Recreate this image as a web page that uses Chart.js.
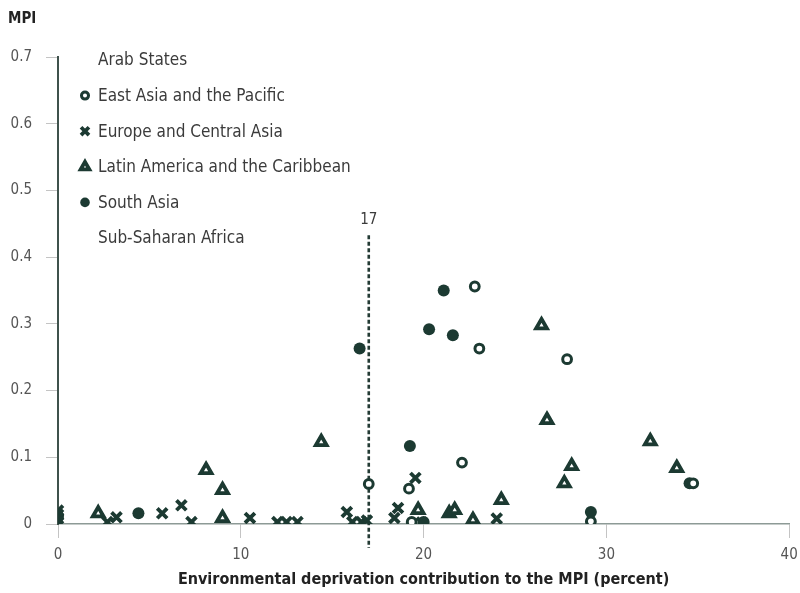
<!DOCTYPE html>
<html>
<head>
<meta charset="utf-8">
<script src="https://cdn.jsdelivr.net/npm/chart.js@4/dist/chart.umd.min.js"></script>
<style>
  body { margin: 0; background: #fff; }
  #wrap { width: 800px; height: 593px; }
</style>
</head>
<body>
<div id="wrap"><canvas id="mpi" width="800" height="593"></canvas></div>
<script>
// [environmental share of MPI (%), MPI] per country, grouped by region
var arabStates = [];
var eastAsia = [[22.8, 0.356], [23.05, 0.263], [27.85, 0.247], [22.1, 0.092], [17.0, 0.060],
  [19.2, 0.053], [19.35, 0.003], [29.15, 0.004], [34.75, 0.061]];
var europeCentralAsia = [[0, 0.002], [0, 0.008], [0, 0.014], [0, 0.020], [2.7, 0.003], [3.2, 0.010],
  [5.7, 0.016], [6.75, 0.028], [7.3, 0.003], [10.5, 0.009], [12.0, 0.003], [12.5, 0.003],
  [13.1, 0.003], [15.8, 0.018], [16.1, 0.003], [16.6, 0.003], [16.9, 0.005], [18.4, 0.009],
  [18.6, 0.024], [19.55, 0.069], [19.9, 0.002], [24.0, 0.008]];
var latinAmerica = [[2.2, 0.016], [8.1, 0.081], [9.0, 0.051], [9.0, 0.009], [14.4, 0.123],
  [19.7, 0.021], [21.4, 0.016], [21.7, 0.021], [22.7, 0.006], [24.25, 0.036], [26.45, 0.298],
  [26.75, 0.156], [27.7, 0.061], [28.1, 0.087], [32.4, 0.124], [33.85, 0.084]];
var southAsia = [[0, 0.012], [4.4, 0.016], [16.5, 0.263], [19.25, 0.117], [20.0, 0.003],
  [20.3, 0.292], [21.1, 0.350], [21.6, 0.283], [29.15, 0.018], [34.55, 0.061]];
var subSaharanAfrica = [];

var regionNames = ["Arab States", "East Asia and the Pacific", "Europe and Central Asia",
  "Latin America and the Caribbean", "South Asia", "Sub-Saharan Africa"];
var xTicks = [0, 10, 20, 30, 40];
var yTicks = [0, 0.1, 0.2, 0.3, 0.4, 0.5, 0.6, 0.7];
var threshold = 17;
var thresholdTop = 0.433;

var ink = "#1c3a32";
var textColor = "#3b3b3b";
var narrow = "'Liberation Sans Narrow', 'DejaVu Sans Condensed', 'Liberation Sans', sans-serif";

function pts(arr) {
  return arr.map(function (p) { return { x: p[0], y: p[1] }; });
}

var datasets = [
  { label: regionNames[0], data: pts(arabStates), pointStyle: "circle", pointRadius: 5,
    backgroundColor: "transparent", borderColor: "transparent", borderWidth: 0 },
  { label: regionNames[1], data: pts(eastAsia), pointStyle: "circle", pointRadius: 4.4,
    backgroundColor: "#fff", borderColor: ink, borderWidth: 3 },
  { label: regionNames[2], data: pts(europeCentralAsia), pointStyle: "crossRot", pointRadius: 7,
    backgroundColor: ink, borderColor: ink, borderWidth: 3.8 },
  { label: regionNames[3], data: pts(latinAmerica), pointStyle: "triangle", pointRadius: 6.2,
    backgroundColor: "#fff", borderColor: ink, borderWidth: 3.8 },
  { label: regionNames[4], data: pts(southAsia), pointStyle: "circle", pointRadius: 6,
    backgroundColor: ink, borderColor: ink, borderWidth: 0 },
  { label: regionNames[5], data: pts(subSaharanAfrica), pointStyle: "circle", pointRadius: 5,
    backgroundColor: "transparent", borderColor: "transparent", borderWidth: 0 }
];

// legend, axis caption and the 17% reference line drawn on top of the plot
var overlay = {
  id: "overlay",
  beforeDatasetsDraw: function (chart) {
    var ctx = chart.ctx, xs = chart.scales.x, ys = chart.scales.y;
    var x = xs.getPixelForValue(threshold);
    var top = ys.getPixelForValue(thresholdTop);
    ctx.save();
    ctx.strokeStyle = "#243b35";
    ctx.lineWidth = 2.6;
    ctx.setLineDash([4, 2.5]);
    ctx.beginPath();
    ctx.moveTo(x, top);
    ctx.lineTo(x, chart.chartArea.bottom + 24);
    ctx.stroke();
    ctx.setLineDash([]);
    ctx.fillStyle = textColor;
    ctx.font = "15px " + narrow;
    ctx.textAlign = "center";
    ctx.textBaseline = "bottom";
    ctx.fillText(String(threshold), x, top - 8);
    ctx.restore();
  },
  afterDraw: function (chart) {
    var ctx = chart.ctx;
    ctx.save();
    ctx.fillStyle = "#222";
    ctx.font = "bold 15px " + narrow;
    ctx.textAlign = "left";
    ctx.textBaseline = "middle";
    ctx.fillText("MPI", 8, 19);

    var lx = 85, ly = 60, step = 35.6;
    ctx.font = "17px " + narrow;
    chart.data.datasets.forEach(function (ds, i) {
      var y = ly + i * step;
      ctx.fillStyle = ds.backgroundColor;
      ctx.strokeStyle = ds.borderColor;
      ctx.lineWidth = ds.borderWidth;
      if (ds.borderWidth > 0 || ds.backgroundColor !== "transparent") {
        Chart.helpers.drawPoint(ctx, {
          pointStyle: ds.pointStyle, radius: ds.pointRadius * 0.8,
          rotation: 0, borderWidth: ds.borderWidth
        }, lx, y);
      }
      ctx.fillStyle = textColor;
      ctx.fillText(ds.label, lx + 13, y + 1);
    });
    ctx.restore();
  }
};

new Chart(document.getElementById("mpi"), {
  type: "scatter",
  data: { datasets: datasets },
  plugins: [overlay],
  options: {
    responsive: false,
    animation: false,
    layout: { padding: { top: 57, right: 8, left: 0, bottom: 0 } },
    plugins: { legend: { display: false }, tooltip: { enabled: false } },
    scales: {
      x: {
        type: "linear", min: 0, max: 40,
        afterBuildTicks: function (s) { s.ticks = xTicks.map(function (v) { return { value: v }; }); },
        afterFit: function (s) { s.height = 69; s.paddingRight = 0; s.paddingLeft = 0; },
        border: { color: "#8d9a96", width: 1.5 },
        grid: { drawOnChartArea: false, drawTicks: true, tickLength: 14, color: "#c4c4c4" },
        ticks: { color: "#555", padding: 8, font: { family: narrow, size: 15 } },
        title: {
          display: true, text: "Environmental deprivation contribution to the MPI (percent)",
          color: "#222", font: { family: narrow, size: 16, weight: "bold" },
          padding: { top: 0, bottom: 4 }
        }
      },
      y: {
        type: "linear", min: 0, max: 0.7,
        afterBuildTicks: function (s) { s.ticks = yTicks.map(function (v) { return { value: v }; }); },
        afterFit: function (s) { s.width = 58; },
        border: { color: "#3f524c", width: 2 },
        grid: { drawOnChartArea: false, drawTicks: true, tickLength: 12, color: "#c4c4c4" },
        ticks: {
          color: "#555", padding: 14, font: { family: narrow, size: 15 },
          callback: function (v) { return v === 0 ? "0" : v.toFixed(1); }
        }
      }
    }
  }
});
</script>
</body>
</html>
